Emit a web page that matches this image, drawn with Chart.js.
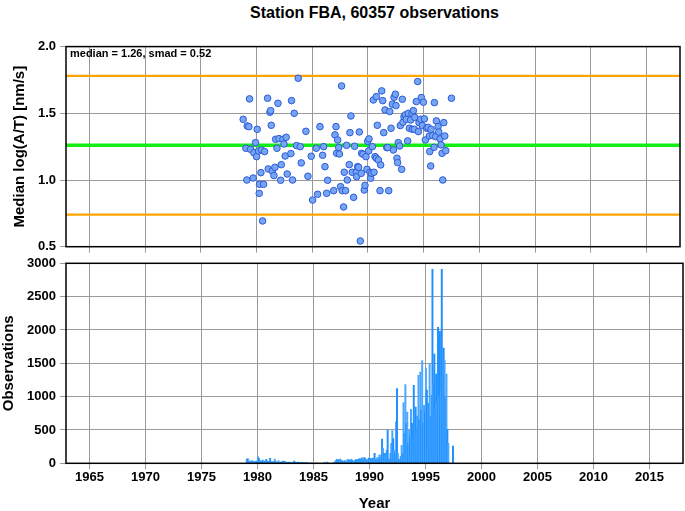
<!DOCTYPE html>
<html lang="es">
<head>
<meta charset="utf-8">
<title>Station FBA</title>
<script src="https://cdn.jsdelivr.net/npm/chart.js@4.4.0/dist/chart.umd.min.js"></script>
<style>
  body { margin: 0; background: #fff; }
  #contenedor { position: relative; width: 685px; height: 511px; font-family: "Liberation Sans", Arial, sans-serif; }
  #titulo { position: absolute; left: 66px; width: 617px; top: 4px; text-align: center; font-weight: bold; font-size: 16px; }
  canvas { position: absolute; left: 0; }
</style>
</head>
<body>
<div id="contenedor">
  <div id="titulo">Station FBA, 60357 observations</div>
  <canvas id="graficoMediana" width="685" height="259" style="top:0"></canvas>
  <canvas id="graficoObs" width="685" height="260" style="top:251px"></canvas>
</div>
<script>
// Valores
const medianaTotal = 1.26;
const smad = 0.52;

const aniosMediana = [
  1978.80, 1979.37, 1979.16, 1979.31, 1980.06, 1979.91, 1979.04, 1979.46, 1979.76, 1980.00,
  1980.18, 1980.45, 1980.72, 1979.13, 1979.70, 1980.39, 1980.27, 1980.63, 1980.24, 1980.54,
  1980.99, 1981.20, 1981.26, 1981.92, 1981.32, 1981.71, 1982.01, 1982.37, 1982.66, 1982.46,
  1981.83, 1981.05, 1981.41, 1981.65, 1981.56, 1982.22, 1982.16, 1982.75, 1982.57, 1983.08,
  1983.23, 1983.14, 1983.38, 1983.74, 1983.59, 1983.92, 1984.01, 1984.43, 1984.61, 1984.91,
  1985.03, 1985.36, 1985.48, 1985.69, 1985.93, 1986.02, 1986.14, 1986.29, 1986.38, 1986.92,
  1987.13, 1987.04, 1987.28, 1987.37, 1987.19, 1987.43, 1987.63, 1987.54, 1987.69, 1987.99,
  1987.81, 1987.87, 1988.08, 1988.14, 1988.32, 1988.38, 1988.47, 1988.59, 1988.71, 1988.80,
  1988.95, 1988.98, 1989.07, 1989.16, 1989.22, 1989.31, 1989.40, 1989.43, 1989.55, 1989.67,
  1989.73, 1989.82, 1989.91, 1989.97, 1990.09, 1990.06, 1990.18, 1990.24, 1990.39, 1990.33,
  1990.54, 1990.63, 1990.84, 1990.75, 1990.93, 1991.14, 1991.08, 1990.48, 1990.75, 1991.23,
  1991.32, 1991.41, 1991.53, 1991.68, 1991.86, 1991.77, 1991.95, 1992.07, 1992.19, 1992.28,
  1992.34, 1992.46, 1992.51, 1992.60, 1992.66, 1992.72, 1992.84, 1992.90, 1993.02, 1993.08,
  1993.14, 1993.23, 1993.35, 1993.44, 1993.56, 1993.62, 1993.71, 1993.83, 1993.95, 1994.07,
  1994.19, 1993.98, 1994.16, 1994.34, 1994.46, 1994.58, 1994.52, 1994.73, 1994.79, 1994.97,
  1994.88, 1995.06, 1995.15, 1995.27, 1995.39, 1995.51, 1995.66, 1995.63, 1995.54, 1995.81,
  1995.96, 1995.93, 1996.08, 1996.14, 1996.29, 1996.35, 1996.47, 1996.56, 1996.65, 1996.80,
  1996.89, 1996.98, 1996.71, 1997.49
];
const valoresMediana = [
  1.455, 1.608, 1.405, 1.400, 1.380, 1.280, 1.238, 1.230, 1.205, 1.175,
  1.218, 1.225, 1.213, 1.000, 1.015, 1.055, 0.968, 0.968, 0.900, 0.693,
  1.613, 1.508, 1.520, 1.575, 1.410, 1.305, 1.310, 1.305, 1.320, 1.270,
  1.238, 1.083, 1.068, 1.095, 1.033, 1.115, 0.998, 1.045, 1.180, 1.198,
  1.000, 1.595, 1.500, 1.763, 1.258, 1.250, 1.128, 1.365, 1.028, 1.178,
  0.850, 1.238, 0.893, 1.400, 1.185, 1.250, 1.100, 0.900, 0.998, 0.920,
  1.400, 1.338, 1.300, 1.243, 1.200, 1.195, 1.705, 0.950, 0.920, 0.920,
  0.798, 1.058, 1.260, 1.000, 1.115, 1.355, 1.480, 1.058, 0.870, 1.253,
  1.058, 1.025, 1.100, 1.095, 1.360, 0.543, 1.050, 1.200, 1.193, 0.925,
  0.960, 1.175, 1.080, 1.290, 1.308, 1.218, 1.058, 1.013, 1.250, 1.050,
  1.058, 1.175, 1.410, 1.163, 1.150, 1.113, 0.920, 1.600, 1.625, 1.668,
  1.595, 1.355, 1.525, 1.243, 0.920, 1.243, 1.513, 1.388, 1.568, 1.225,
  1.620, 1.643, 1.558, 1.163, 1.130, 1.280, 1.255, 1.408, 1.080, 1.605,
  1.433, 1.475, 1.488, 1.455, 1.293, 1.500, 1.388, 1.450, 1.500, 1.520,
  1.470, 1.380, 1.380, 1.588, 1.738, 1.430, 1.363, 1.455, 1.618, 1.583,
  1.408, 1.458, 1.300, 1.388, 1.395, 1.330, 1.380, 1.105, 1.213, 1.333,
  1.580, 1.245, 1.325, 1.443, 1.400, 1.360, 1.308, 1.263, 1.200, 1.430,
  1.330, 1.220, 1.000, 1.613
];

// Observaciones por mes desde enero de 1979
const anioInicioObs = 1979;
const observacionesMes = [
  60, 70, 45, 20, 35, 25, 40, 20, 30, 15, 35, 25,           // 1979
  100, 75, 40, 35, 30, 50, 20, 35, 25, 60, 20, 30,          // 1980
  15, 75, 30, 20, 25, 20, 65, 25, 15, 20, 40, 15,           // 1981
  20, 15, 30, 35, 30, 25, 20, 15, 10, 20, 15, 10,           // 1982
  15, 10, 20, 35, 15, 10, 10, 20, 15, 10, 5, 15,            // 1983
  10, 5, 10, 5, 5, 10, 5, 0, 0, 5, 0, 0,                    // 1984
  0, 0, 0, 5, 0, 0, 0, 0, 0, 0, 0, 10,                      // 1985
  5, 0, 20, 5, 0, 0, 0, 0, 0, 5, 10, 35,                    // 1986
  50, 60, 55, 40, 65, 50, 45, 30, 25, 40, 35, 20,           // 1987
  60, 45, 55, 40, 60, 50, 35, 25, 45, 55, 30, 60,           // 1988
  60, 70, 40, 75, 85, 60, 90, 70, 55, 50, 65, 80,           // 1989
  55, 70, 45, 80, 60, 150, 50, 65, 90, 60, 125, 80,         // 1990
  125, 365, 225, 150, 100, 150, 200, 500, 75, 60, 150, 300, // 1991
  490, 370, 200, 150, 625, 1120, 150, 60, 60, 100, 270, 150, // 1992
  910, 450, 1180, 600, 770, 300, 500, 400, 810, 600, 350, 1170, // 1993
  700, 845, 500, 710, 1320, 650, 1370, 800, 1540, 600, 870, 770, // 1994
  1430, 1100, 220, 900, 1490, 700, 1020, 2910, 1200, 1640, 800, 1340, // 1995
  900, 2040, 1000, 1980, 1100, 2910, 1300, 1730, 1550, 1000, 1340, 510, // 1996
  300, 0, 0, 0, 0, 260                                       // 1997
];

const rangoAnios = [1962.9, 2018];
const ticksAnios = [1965, 1970, 1975, 1980, 1985, 1990, 1995, 2000, 2005, 2010, 2015];
const ticksMediana = [0.5, 1.0, 1.5, 2.0];
const ticksObs = [0, 500, 1000, 1500, 2000, 2500, 3000];

const colorRejilla = '#9a9a9a';
const fuente = '"Liberation Sans", Arial, Helvetica, sans-serif';

Chart.defaults.font.family = fuente;
Chart.defaults.font.weight = 'bold';
Chart.defaults.color = '#000';

// Marco negro alrededor del área de datos (y el texto de la mediana)
const marco = {
  id: 'marco',
  afterDraw(chart, args, opciones) {
    const { ctx, chartArea } = chart;
    ctx.save();
    ctx.strokeStyle = '#000';
    ctx.lineWidth = 1.5;
    ctx.strokeRect(chartArea.left, chartArea.top, chartArea.right - chartArea.left, chartArea.bottom - chartArea.top);
    if (opciones.texto) {
      ctx.font = `bold 11px ${fuente}`;
      ctx.fillStyle = '#000';
      ctx.textBaseline = 'middle';
      ctx.fillText(opciones.texto, chartArea.left + 4, chartArea.top + 7);
    }
    ctx.restore();
  }
};

function ejeX(conEtiquetas) {
  return {
    type: 'linear',
    min: rangoAnios[0],
    max: rangoAnios[1],
    offset: false,
    afterBuildTicks: eje => { eje.ticks = ticksAnios.map(v => ({ value: v })); },
    afterFit: eje => { eje.height = conEtiquetas ? 47.7 : 12.3; },
    grid: { color: colorRejilla, lineWidth: 1, tickLength: 6, offset: false },
    border: { display: false },
    ticks: { display: conEtiquetas, font: { size: 13 }, padding: 0, maxRotation: 0, autoSkip: false, callback: v => String(v) },
    title: { display: conEtiquetas, text: 'Year', font: { size: 15, lineHeight: 1 }, padding: { top: 0, bottom: 0 } }
  };
}

function ejeY(valores, titulo, relleno, formato) {
  return {
    type: 'linear',
    min: valores[0],
    max: valores[valores.length - 1],
    afterBuildTicks: eje => { eje.ticks = valores.map(v => ({ value: v })); },
    afterFit: eje => { eje.width = 66; },
    grid: { color: colorRejilla, lineWidth: 1, tickLength: 6 },
    border: { display: false },
    ticks: { font: { size: 13 }, padding: 4, callback: formato },
    title: { display: true, text: titulo, font: { size: 15 }, padding: { top: relleno, bottom: 0 } }
  };
}

const lineaHorizontal = (valor, color, grosor) => ({
  type: 'line',
  data: [{ x: rangoAnios[0], y: valor }, { x: rangoAnios[1], y: valor }],
  borderColor: color,
  borderWidth: grosor,
  pointRadius: 0,
  showLine: true,
  order: 2
});

new Chart(document.querySelector('#graficoMediana'), {
  type: 'scatter',
  data: {
    datasets: [
      {
        data: aniosMediana.map((a, i) => ({ x: a, y: valoresMediana[i] })),
        backgroundColor: 'rgb(118,166,243)',
        borderColor: 'rgb(45,90,215)',
        borderWidth: 1,
        pointRadius: 3.3,
        order: 0
      },
      lineaHorizontal(medianaTotal + smad, '#ffa500', 2.2),
      lineaHorizontal(medianaTotal - smad, '#ffa500', 2.2),
      lineaHorizontal(medianaTotal, '#11ee11', 3.5)
    ]
  },
  options: {
    responsive: false,
    animation: false,
    layout: { padding: { top: 46.6, right: 2, left: 0, bottom: 0 } },
    plugins: {
      legend: { display: false },
      tooltip: { enabled: false },
      marco: { texto: `median = ${medianaTotal.toFixed(2)}, smad = ${smad.toFixed(2)}` }
    },
    scales: {
      x: ejeX(false),
      y: ejeY(ticksMediana, 'Median log(A/T) [nm/s]', 11, v => v.toFixed(1))
    }
  },
  plugins: [marco]
});

new Chart(document.querySelector('#graficoObs'), {
  type: 'bar',
  data: {
    datasets: [{
      data: observacionesMes.map((n, i) => ({ x: anioInicioObs + (i + 0.5) / 12, y: n })),
      backgroundColor: observacionesMes.map((n, i) => i % 2 ? '#1e90ff' : '#4aa6ff'),
      borderWidth: 0,
      barPercentage: 1,
      categoryPercentage: 1,
      barThickness: 1.3
    }]
  },
  options: {
    responsive: false,
    animation: false,
    layout: { padding: { top: 12.3, right: 2, left: 0, bottom: 0 } },
    plugins: {
      legend: { display: false },
      tooltip: { enabled: false },
      marco: {}
    },
    scales: {
      x: ejeX(true),
      y: ejeY(ticksObs, 'Observations', 0, v => String(v))
    }
  },
  plugins: [marco]
});
</script>
</body>
</html>
